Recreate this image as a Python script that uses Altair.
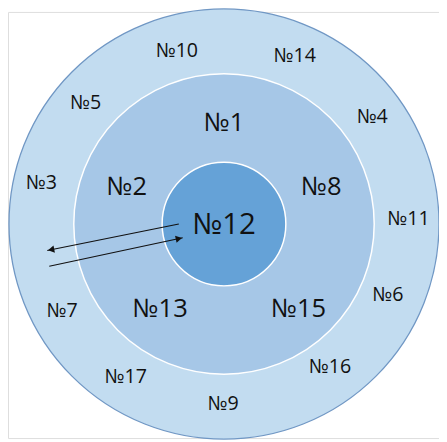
import altair as alt
import pandas as pd
import math

# Rings (page-pixel coordinate system of the diagram)
ring_names = ["outer", "middle", "inner"]
ring_cx = [228, 228, 228]
ring_cy = [224, 224, 224]
ring_r = [219, 153, 63]
ring_fill = ["#c2dcf0", "#a6c7e7", "#65a2d7"]
ring_stroke = ["#7097c4", "#ffffff", "#ffffff"]

# Labels
outer_labels = ["№10", "№14", "№5", "№4", "№3", "№11", "№7", "№6", "№17", "№16", "№9"]
outer_x = [180, 300, 87, 379, 42, 416, 63, 395, 128, 336, 227]
outer_y = [48, 53, 101, 115, 182, 219, 313, 296, 380, 370, 407]

middle_labels = ["№1", "№2", "№8", "№13", "№15"]
middle_x = [228, 129, 327, 163, 304]
middle_y = [121, 186, 186, 311, 311]

center_labels = ["№12"]
center_x = [228]
center_y = [225]

# Arrows: start -> tip
arrow_x1 = [182, 50]
arrow_y1 = [224, 267]
arrow_x2 = [48, 186]
arrow_y2 = [251, 238]
arrow_shape = ["triangle-left", "triangle-right"]
arrow_angle = [348.6, 348]

W, H = 439, 434
xs = alt.Scale(domain=[8, 8 + W], range=[0, W], nice=False, zero=False)
ys = alt.Scale(domain=[8, 8 + H], range=[0, H], nice=False, zero=False)

rings = pd.DataFrame({"name": ring_names, "x": ring_cx, "y": ring_cy, "r": ring_r})

def ring_layer(i, sw):
    d = rings.iloc[[i]]
    return alt.Chart(d).transform_calculate(sz="pow(2*datum.r, 2)").mark_circle(
        fill=ring_fill[i], stroke=ring_stroke[i], strokeWidth=sw, opacity=1, fillOpacity=1
    ).encode(
        x=alt.X("x:Q", scale=xs, axis=None),
        y=alt.Y("y:Q", scale=ys, axis=None),
        size=alt.Size("sz:Q", scale=None, legend=None),
    )

def text_layer(labels, xv, yv, fs):
    d = pd.DataFrame({"t": labels, "x": xv, "y": yv})
    return alt.Chart(d).mark_text(
        font="Open Sans", fontSize=fs, color="#111111", align="center", baseline="middle"
    ).encode(
        x=alt.X("x:Q", scale=xs, axis=None),
        y=alt.Y("y:Q", scale=ys, axis=None),
        text="t:N",
    )

arrows = pd.DataFrame({"x1": arrow_x1, "y1": arrow_y1, "x2": arrow_x2, "y2": arrow_y2,
                       "shape": arrow_shape, "angle": arrow_angle})
# arrowhead centres a few px back from the tip along the line
hx, hy = [], []
for a, b, c, e in zip(arrow_x1, arrow_y1, arrow_x2, arrow_y2):
    L = math.hypot(c - a, e - b)
    hx.append(c - 4 * (c - a) / L)
    hy.append(e - 4 * (e - b) / L)
arrows["hx"] = hx
arrows["hy"] = hy

lines = alt.Chart(arrows).mark_rule(color="#111111", strokeWidth=1.2).encode(
    x=alt.X("x1:Q", scale=xs, axis=None),
    y=alt.Y("y1:Q", scale=ys, axis=None),
    x2="x2:Q",
    y2="y2:Q",
)
heads = alt.Chart(arrows).mark_point(filled=True, color="#111111", size=55, opacity=1).encode(
    x=alt.X("hx:Q", scale=xs, axis=None),
    y=alt.Y("hy:Q", scale=ys, axis=None),
    shape=alt.Shape("shape:N", scale=None, legend=None),
    angle=alt.Angle("angle:Q", scale=None),
)

chart = alt.layer(
    ring_layer(0, 1.3),
    ring_layer(1, 1.5),
    ring_layer(2, 1.5),
    lines,
    heads,
    text_layer(outer_labels, outer_x, outer_y, 20),
    text_layer(middle_labels, middle_x, middle_y, 26),
    text_layer(center_labels, center_x, center_y, 30),
).properties(
    width=W, height=H, padding=0, autosize=alt.AutoSizeParams(type="none")
).configure_view(stroke=None, clip=False).configure(background="white")

chart.save("out.html", embed_options={"renderer": "svg", "actions": False})
